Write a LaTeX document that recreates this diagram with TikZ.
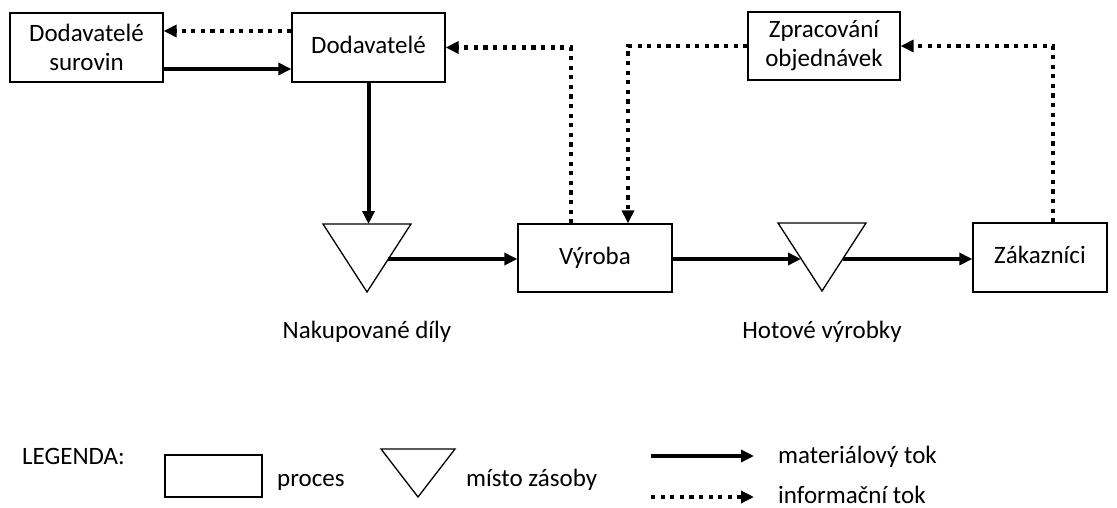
\documentclass[tikz,border=0pt]{standalone}
\usepackage{fontspec}
\setmainfont{Carlito}
\usetikzlibrary{arrows.meta}
\tikzset{
  boxtwo/.style={draw, line width=1.3pt, inner sep=0pt, align=center, font=\fontsize{25}{29}\selectfont},
  box/.style={boxtwo, text height=17pt, text depth=5pt},
  lbl/.style={inner sep=0pt, text height=17pt, text depth=5pt, font=\fontsize{25}{29}\selectfont},
  mat/.style={line width=4pt, -{Triangle[length=13pt,width=12pt]}},
  info/.style={line width=4.2pt, dash pattern=on 4.2pt off 5.4pt, -{Triangle[length=13pt,width=12pt]}},
  tri/.style={draw, line width=1.3pt, line join=miter},
}
\begin{document}
\begin{tikzpicture}[x=1pt,y=-1pt]
\useasboundingbox (0,0) rectangle (1117,508);
% process boxes
\node[boxtwo, minimum width=153pt, minimum height=69pt] (sur) at (86.5,47.5) {Dodavatelé\\surovin};
\node[box, minimum width=153pt, minimum height=69pt] (dod) at (368.5,47.5) {Dodavatelé};
\node[boxtwo, minimum width=152pt, minimum height=68pt] (zp) at (824,46) {\raisebox{-2pt}{Zpracování}\\\raisebox{-2pt}{objednávek}};
\node[box, minimum width=154pt, minimum height=68pt] (vy) at (595,258) {Výroba};
\node[box, minimum width=134pt, minimum height=69pt] (zak) at (1040,257.5) {Zákazníci};
% stock triangles
\coordinate (t1a) at (323,224); \coordinate (t1b) at (411,224); \coordinate (t1c) at (367,292);
\coordinate (t1top) at (367,224); \coordinate (t1r) at (388,259);
\draw[tri] (t1a) -- (t1b) -- (t1c) -- cycle;
\coordinate (t2a) at (778,223); \coordinate (t2b) at (866,223); \coordinate (t2c) at (822,291);
\coordinate (t2l) at (801,259); \coordinate (t2r) at (843,259);
\draw[tri] (t2a) -- (t2b) -- (t2c) -- cycle;
\node[lbl] (nd) at (367,332) {Nakupované díly};
\node[lbl] (hv) at (822,332) {Hotové výrobky};
% material flow
\draw[mat] ([yshift=-21.5pt]sur.east) -- ([yshift=-21.5pt]dod.west);
\draw[mat] (dod.south) -- (dod.south |- t1top);
\draw[mat] (t1r) -- (t1r -| vy.west);
\draw[mat] (vy.east |- t2l) -- (t2l);
\draw[mat] (t2r) -- (t2r -| zak.west);
% information flow
\draw[info] ([yshift=16.5pt]dod.west) -- ([yshift=16.5pt]sur.east);
\draw[info] ([xshift=-24pt]vy.north) |- (dod.east);
\draw[info] (zp.west) -| ([xshift=33pt]vy.north);
\draw[info] ([xshift=13pt]zak.north) |- (zp.east);
% legend
\node[lbl, anchor=west] (leg) at (22,458) {LEGENDA:};
\node[draw, line width=1.3pt, inner sep=0pt, minimum width=97pt, minimum height=42pt] (lbox) at (213.5,476) {};
\node[lbl, anchor=west] (lproc) at (277,480) {proces};
\coordinate (l1) at (381,449); \coordinate (l2) at (455,449); \coordinate (l3) at (418,497);
\draw[tri] (l1) -- (l2) -- (l3) -- cycle;
\node[lbl, anchor=west] (lmist) at (466,480) {místo zásoby};
\coordinate (la1) at (651,456); \coordinate (la2) at (754,456);
\draw[mat] (la1) -- (la2);
\node[lbl, anchor=west] (lmat) at (778,457) {materiálový tok};
\coordinate (lb1) at (651,497); \coordinate (lb2) at (754,497);
\draw[info] (lb1) -- (lb2);
\node[lbl, anchor=west] (linf) at (778,497) {informační tok};
\end{tikzpicture}
\end{document}
